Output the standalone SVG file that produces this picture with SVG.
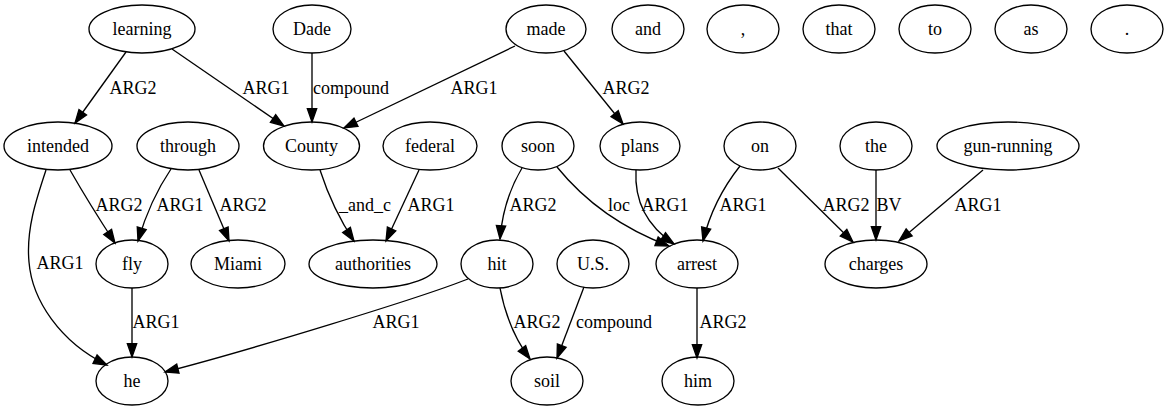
<svg xmlns="http://www.w3.org/2000/svg" width="1169" height="411" viewBox="0 0 1169 411">
<style>
.n ellipse{fill:none;stroke:#000;stroke-width:1.33}
text{font-family:'Liberation Serif','Times New Roman','Nimbus Roman','Nimbus Roman No9 L','DejaVu Serif','Noto Serif','FreeSerif',Times,serif;font-size:18px;fill:#000;text-anchor:middle}
.e path{fill:none;stroke:#000;stroke-width:1.33;marker-end:url(#arr)}
</style>
<defs>
<marker id="arr" markerUnits="userSpaceOnUse" markerWidth="16" markerHeight="12" refX="13.3" refY="4.67" orient="auto" overflow="visible">
<path d="M0,0 L13.3,4.67 L0,9.33 Z" fill="#000" stroke="#000" stroke-width="1.33"/>
</marker>
</defs>
<rect width="1169" height="411" fill="#fff"/>
<g class="e" id="connectors">
<path d="M126,52 L75,123"/>
<path d="M172,49 L284,126"/>
<path d="M312,53 L312,122"/>
<path d="M515,46 L344,128"/>
<path d="M564,51 L623,124"/>
<path d="M70,170 Q90,205 115,243"/>
<path d="M46,170 C36,200 26,230 29,262 C32,300 60,342 107,365"/>
<path d="M171,169 Q150,200 138,241"/>
<path d="M199,170 L229,241"/>
<path d="M320,170 Q333,210 354,241"/>
<path d="M419,170 L386,241"/>
<path d="M522,168 Q503,200 500,239"/>
<path d="M557,167 Q600,220 669,246"/>
<path d="M636,170 C634,205 650,228 674,244"/>
<path d="M740,166 Q713,200 703,241"/>
<path d="M778,168 L853,242"/>
<path d="M876,170 L876,240"/>
<path d="M983,170 L899,241"/>
<path d="M132,288 L132,357"/>
<path d="M468,279 C420,298 250,350 165,372"/>
<path d="M500,288 Q508,330 530,359"/>
<path d="M584,287 L557,358"/>
<path d="M697,288 L697,358"/>
<text x="133" y="94">ARG2</text>
<text x="266" y="94">ARG1</text>
<text x="351" y="94">compound</text>
<text x="474" y="94">ARG1</text>
<text x="626" y="94">ARG2</text>
<text x="119" y="211">ARG2</text>
<text x="60" y="269">ARG1</text>
<text x="180" y="211">ARG1</text>
<text x="243" y="211">ARG2</text>
<text x="365" y="211">_and_c</text>
<text x="431" y="211">ARG1</text>
<text x="533" y="211">ARG2</text>
<text x="619" y="211">loc</text>
<text x="665" y="211">ARG1</text>
<text x="743" y="211">ARG1</text>
<text x="846" y="211">ARG2</text>
<text x="889" y="211">BV</text>
<text x="978" y="211">ARG1</text>
<text x="156" y="328">ARG1</text>
<text x="396" y="328">ARG1</text>
<text x="537" y="328">ARG2</text>
<text x="614" y="328">compound</text>
<text x="723" y="328">ARG2</text>
</g>
<g class="n" id="n-learning"><ellipse cx="142" cy="29" rx="53" ry="24"/><text x="142" y="35">learning</text></g>
<g class="n" id="n-Dade"><ellipse cx="312" cy="29" rx="39" ry="24"/><text x="312" y="35">Dade</text></g>
<g class="n" id="n-made"><ellipse cx="546" cy="29" rx="40" ry="24"/><text x="546" y="35">made</text></g>
<g class="n" id="n-and"><ellipse cx="648" cy="29" rx="36" ry="24"/><text x="648" y="35">and</text></g>
<g class="n" id="n-comma"><ellipse cx="743" cy="29" rx="36" ry="24"/><text x="743" y="35">,</text></g>
<g class="n" id="n-that"><ellipse cx="839" cy="29" rx="36" ry="24"/><text x="839" y="35">that</text></g>
<g class="n" id="n-to"><ellipse cx="935" cy="29" rx="36" ry="24"/><text x="935" y="35">to</text></g>
<g class="n" id="n-as"><ellipse cx="1031" cy="29" rx="36" ry="24"/><text x="1031" y="35">as</text></g>
<g class="n" id="n-period"><ellipse cx="1127" cy="29" rx="36" ry="24"/><text x="1127" y="35">.</text></g>
<g class="n" id="n-intended"><ellipse cx="58" cy="146" rx="54" ry="24"/><text x="58" y="152">intended</text></g>
<g class="n" id="n-through"><ellipse cx="188" cy="146" rx="51" ry="24"/><text x="188" y="152">through</text></g>
<g class="n" id="n-County"><ellipse cx="311.5" cy="146" rx="48" ry="24"/><text x="311.5" y="152">County</text></g>
<g class="n" id="n-federal"><ellipse cx="430" cy="146" rx="47" ry="24"/><text x="430" y="152">federal</text></g>
<g class="n" id="n-soon"><ellipse cx="538" cy="146" rx="36" ry="24"/><text x="538" y="152">soon</text></g>
<g class="n" id="n-plans"><ellipse cx="640" cy="146" rx="40" ry="24"/><text x="640" y="152">plans</text></g>
<g class="n" id="n-on"><ellipse cx="760" cy="146" rx="36" ry="24"/><text x="760" y="152">on</text></g>
<g class="n" id="n-the"><ellipse cx="876" cy="146" rx="36" ry="24"/><text x="876" y="152">the</text></g>
<g class="n" id="n-gun-running"><ellipse cx="1008" cy="146" rx="71" ry="24"/><text x="1008" y="152">gun-running</text></g>
<g class="n" id="n-fly"><ellipse cx="132" cy="264" rx="36" ry="24"/><text x="132" y="270">fly</text></g>
<g class="n" id="n-Miami"><ellipse cx="238" cy="264" rx="47" ry="24"/><text x="238" y="270">Miami</text></g>
<g class="n" id="n-authorities"><ellipse cx="373" cy="264" rx="64" ry="24"/><text x="373" y="270">authorities</text></g>
<g class="n" id="n-hit"><ellipse cx="497" cy="264" rx="36" ry="24"/><text x="497" y="270">hit</text></g>
<g class="n" id="n-US"><ellipse cx="593" cy="264" rx="36" ry="24"/><text x="593" y="270">U.S.</text></g>
<g class="n" id="n-arrest"><ellipse cx="697" cy="264" rx="41" ry="24"/><text x="697" y="270">arrest</text></g>
<g class="n" id="n-charges"><ellipse cx="876" cy="264" rx="51" ry="24"/><text x="876" y="270">charges</text></g>
<g class="n" id="n-he"><ellipse cx="132" cy="381" rx="36" ry="24"/><text x="132" y="387">he</text></g>
<g class="n" id="n-soil"><ellipse cx="547" cy="381" rx="36" ry="24"/><text x="547" y="387">soil</text></g>
<g class="n" id="n-him"><ellipse cx="698" cy="381" rx="36" ry="24"/><text x="698" y="387">him</text></g>
</svg>
